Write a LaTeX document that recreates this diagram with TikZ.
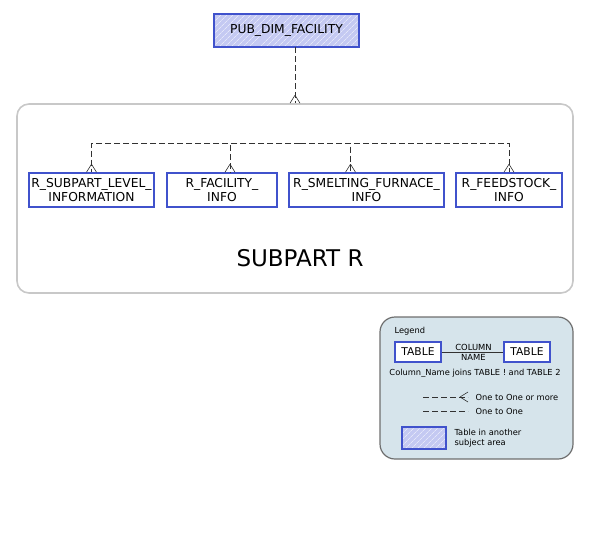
\documentclass[tikz,border=0pt]{standalone}
\usepackage{fontspec}
\setmainfont{DejaVu Sans}
\usepackage{xcolor}
\usetikzlibrary{positioning,patterns.meta,decorations.markings}

\definecolor{tblblue}{RGB}{64,82,204}
\definecolor{hatchfill}{RGB}{196,201,242}
\definecolor{areagray}{RGB}{200,200,200}
\definecolor{legendfill}{RGB}{214,228,235}
\definecolor{legendgray}{RGB}{110,110,110}
\definecolor{relgray}{RGB}{50,50,50}

\begin{document}
\begin{tikzpicture}[
    x=1pt, y=-1pt,
    entity/.style={rectangle, draw=tblblue, line width=1.6pt, fill=white, align=center, inner sep=0pt,
        minimum height=34pt, font=\fontsize{12.3}{14.5}\selectfont},
    extentity/.style={entity, fill=none, preaction={fill=hatchfill},
        pattern={Lines[angle=45, distance=4pt, line width=0.7pt]}, pattern color=white!55!hatchfill},
    area/.style={rectangle, rounded corners=12pt, draw=areagray, line width=1.6pt, inner sep=0pt},
    rel/.style={draw=relgray, line width=0.8pt, dash pattern=on 6pt off 3pt},
    manyend/.style={postaction={decorate, decoration={markings,
        mark=at position 1 with {\draw[solid, relgray, line width=0.6pt] (-8pt,0) -- (0,5pt) (-8pt,0) -- (0,-5pt);}}}},
    small/.style={font=\fontsize{8.3}{10.5}\selectfont}
]
\useasboundingbox (0,0) rectangle (591,550);

% Subject area
\node[area, minimum width=556pt, minimum height=189pt] (subpart) at (295,198.5) {};
\node[font=\fontsize{23}{27}\selectfont] (subparttitle) at (300,258) {SUBPART R};

% Tables
\node[extentity, minimum width=145pt, minimum height=33pt] (pubfacility) at (286.5,30.5) {PUB\_DIM\_FACILITY};
\node[entity, minimum width=125pt] (sublevel) at (91.5,190) {R\_SUBPART\_LEVEL\_\\INFORMATION};
\node[entity, minimum width=110pt] (facinfo) at (222,190) {R\_FACILITY\_\\INFO};
\node[entity, minimum width=155pt] (smelting) at (366.5,190) {R\_SMELTING\_FURNACE\_\\INFO};
\node[entity, minimum width=106pt] (feedstock) at (509,190) {R\_FEEDSTOCK\_\\INFO};

% Relations
\draw[rel, manyend] (pubfacility.south -| subpart.north) -- (subpart.north);
\coordinate (bus) at (300,143);
\draw[rel, manyend] (bus) -| (sublevel.north);
\draw[rel, manyend] (bus) -| ([xshift=8pt]facinfo.north);
\draw[rel, manyend] (bus) -| ([xshift=-16pt]smelting.north);
\draw[rel, manyend] (bus) -| (feedstock.north);

% Legend
\node[rectangle, rounded corners=15pt, draw=legendgray, line width=1.2pt, fill=legendfill,
    minimum width=193pt, minimum height=142pt] (legend) at (476.5,388) {};
\node[small, anchor=west] (legendtitle) at (391,331) {Legend};
\node[entity, line width=1.4pt, minimum width=46pt, minimum height=20pt, font=\fontsize{10.7}{12}\selectfont] (tab1) at (418,352) {TABLE};
\node[entity, line width=1.4pt, minimum width=46pt, minimum height=20pt, font=\fontsize{10.7}{12}\selectfont] (tab2) at (527,352) {TABLE};
\draw[relgray, line width=0.7pt] (tab1) -- (tab2);
\node[align=center, inner sep=0pt, font=\fontsize{8.4}{10}\selectfont] (colname) at (473.5,352) {COLUMN\\NAME};
\node[small] (joins) at (475,373) {Column\_Name joins TABLE ! and TABLE 2};

\coordinate (manya) at (423,397);
\coordinate (manyb) at (468,397);
\draw[rel, manyend] (manya) -- (manyb);
\node[small, anchor=west] (manytext) at (472,397) {One to One or more};
\coordinate (onea) at (423,411);
\coordinate (oneb) at (468,411);
\draw[rel] (onea) -- (oneb);
\node[small, anchor=west] (onetext) at (472,411) {One to One};

\node[extentity, line width=1.4pt, minimum width=44pt, minimum height=22pt] (extsample) at (424,438) {};
\node[small, anchor=west, align=left] (exttext) at (451,438) {Table in another\\subject area};

\end{tikzpicture}
\end{document}
